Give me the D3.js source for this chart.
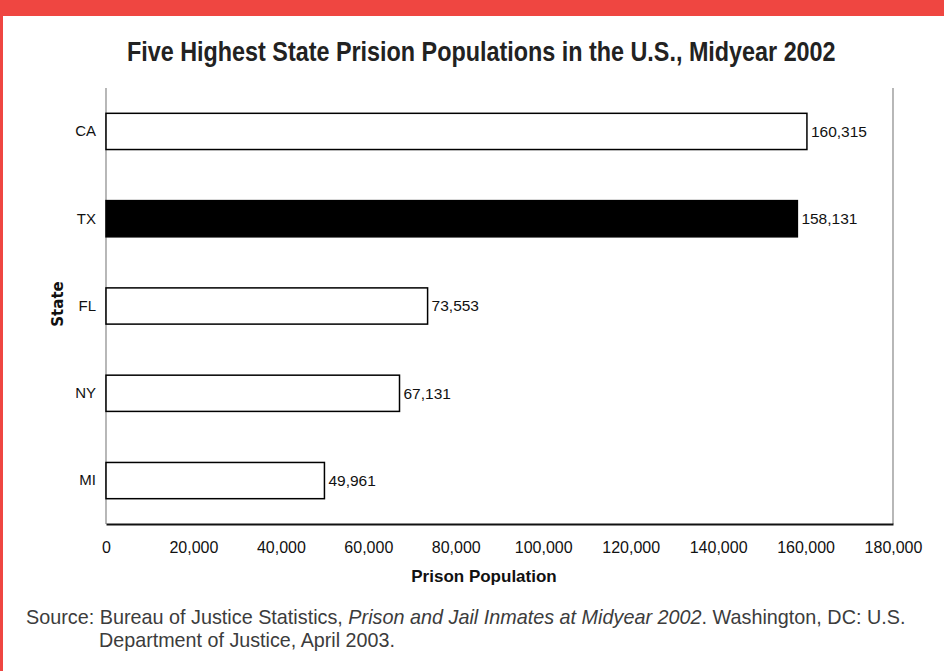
<!DOCTYPE html>
<html>
<head>
<meta charset="utf-8">
<script src="https://cdn.jsdelivr.net/npm/d3@7"></script>
<style>
  body { margin: 0; background: #fff; }
  svg { display: block; }
</style>
</head>
<body>
<div id="chart"></div>
<script>
// data
var states = ["CA", "TX", "FL", "NY", "MI"];
var population = [160315, 158131, 73553, 67131, 49961];
var highlight = ["TX"];
var xTicks = [0, 20000, 40000, 60000, 80000, 100000, 120000, 140000, 160000, 180000];

var W = 944, H = 671;
var margin = {top: 88, right: 51, bottom: 147, left: 106},
    width = W - margin.left - margin.right,
    height = H - margin.top - margin.bottom;

var sans = "'Liberation Sans', Arial, sans-serif";

var svg = d3.select("#chart").append("svg")
    .attr("width", W)
    .attr("height", H);

// squeeze a text horizontally so it spans w pixels from x (the originals use a condensed face)
function condense(sel, x, yy, w) {
  var len = sel.node().getComputedTextLength();
  sel.attr("x", 0).attr("y", 0)
     .attr("transform", "translate(" + x + "," + yy + ") scale(" + (w / len) + ",1)");
}

// red frame
svg.append("rect").attr("x", 0).attr("y", 0).attr("width", W).attr("height", 16).attr("fill", "#ef4641");
svg.append("rect").attr("x", 0).attr("y", 0).attr("width", 3).attr("height", H).attr("fill", "#ef4641");

var title = svg.append("text")
    .style("font-family", sans)
    .style("font-weight", "bold")
    .style("font-size", "27px")
    .attr("fill", "#222")
    .text("Five Highest State Prision Populations in the U.S., Midyear 2002");
condense(title, 127, 61, 709);

var g = svg.append("g")
    .attr("transform", "translate(" + margin.left + "," + margin.top + ")");

var x = d3.scaleLinear().domain([0, 180000]).range([0, width]);
var y = d3.scaleBand().domain(states).range([0, height]).paddingInner(0.585).paddingOuter(0.29);

var data = states.map(function(s, i) { return {state: s, value: population[i]}; });

// frame lines
g.append("line").attr("x1", 0).attr("x2", 0).attr("y1", 0).attr("y2", height)
    .attr("stroke", "#888").attr("stroke-width", 1.2);
g.append("line").attr("x1", width).attr("x2", width).attr("y1", 0).attr("y2", height)
    .attr("stroke", "#888").attr("stroke-width", 1.2);

// bars
g.selectAll("rect.bar")
    .data(data)
  .enter().append("rect")
    .attr("class", "bar")
    .attr("x", x(0))
    .attr("y", function(d) { return y(d.state); })
    .attr("width", function(d) { return x(d.value) - x(0); })
    .attr("height", y.bandwidth())
    .attr("fill", function(d) { return highlight.indexOf(d.state) >= 0 ? "#000" : "#fff"; })
    .attr("stroke", "#000")
    .attr("stroke-width", 1.5);

// value labels
g.selectAll("text.val")
    .data(data)
  .enter().append("text")
    .attr("class", "val")
    .attr("x", function(d) { return x(d.value) + 4; })
    .attr("y", function(d) { return y(d.state) + y.bandwidth() / 2; })
    .attr("dy", "0.35em")
    .style("font-family", sans)
    .style("font-size", "15.5px")
    .attr("fill", "#111")
    .text(function(d) { return d3.format(",")(d.value); });

// y axis labels
var yAxis = g.append("g")
    .call(d3.axisLeft(y).tickSize(0).tickPadding(10));
yAxis.select(".domain").remove();
yAxis.selectAll("text")
    .style("font-family", sans)
    .style("font-size", "15px")
    .attr("fill", "#111");

// x axis
var xAxis = g.append("g")
    .attr("transform", "translate(0," + height + ")")
    .call(d3.axisBottom(x).tickValues(xTicks).tickSize(0).tickPadding(18).tickFormat(d3.format(",")));
xAxis.select(".domain").attr("stroke", "#111").attr("stroke-width", 2);
xAxis.selectAll("text")
    .style("font-family", sans)
    .style("font-size", "16px")
    .attr("fill", "#111");

// axis titles
g.append("text")
    .attr("x", 484 - margin.left).attr("y", 582 - margin.top)
    .attr("text-anchor", "middle")
    .style("font-family", sans)
    .style("font-weight", "bold")
    .style("font-size", "17px")
    .attr("fill", "#111")
    .text("Prison Population");

g.append("text")
    .attr("transform", "translate(-43," + (height / 2 - 2) + ") rotate(-90)")
    .attr("text-anchor", "middle")
    .style("font-family", "'DejaVu Sans', sans-serif")
    .style("font-weight", "bold")
    .style("font-size", "15px")
    .attr("fill", "#111")
    .text("State");

// source note
var src = svg.append("text")
    .style("font-family", sans)
    .style("font-size", "20px")
    .attr("fill", "#3c3c3c");
src.append("tspan").text("Source: Bureau of Justice Statistics, ");
src.append("tspan").style("font-style", "italic").text("Prison and Jail Inmates at Midyear 2002");
src.append("tspan").text(". Washington, DC: U.S.");
condense(src, 26, 624, 880);

var src2 = svg.append("text")
    .style("font-family", sans)
    .style("font-size", "20px")
    .attr("fill", "#3c3c3c")
    .text("Department of Justice, April 2003.");
condense(src2, 99, 647, 296);
</script>
</body>
</html>
